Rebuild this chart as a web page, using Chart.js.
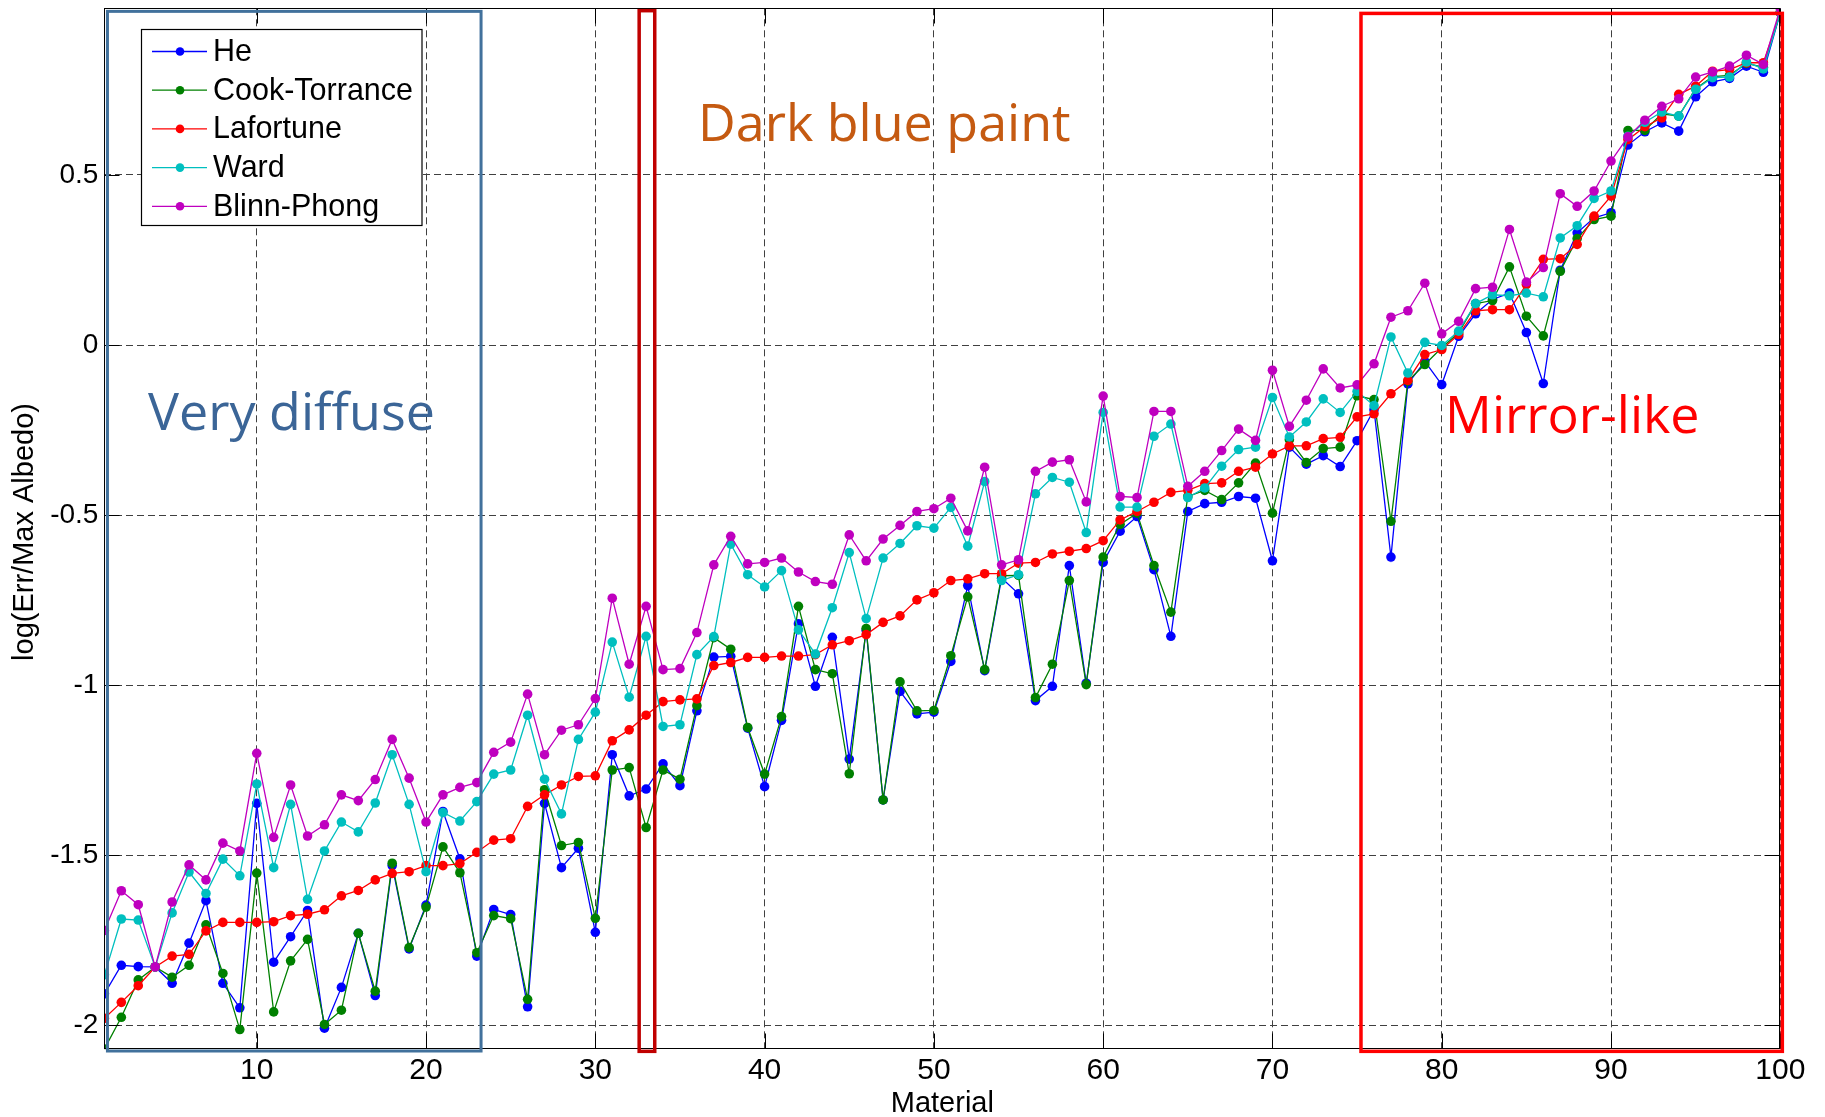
<!DOCTYPE html>
<html>
<head>
<meta charset="utf-8">
<script src="https://cdn.jsdelivr.net/npm/chart.js@4/dist/chart.umd.min.js"></script>
<style>
  html, body { margin: 0; padding: 0; background: #fff; }
  canvas { display: block; }
</style>
</head>
<body>
<canvas id="chart" width="1825" height="1117"></canvas>
<script>
// Material index 1..100
const materials = Array.from({ length: 100 }, (_, i) => i + 1);

// log(Err / Max Albedo) per material for each BRDF model
const heErr = [-1.907,-1.823,-1.827,-1.828,-1.876,-1.758,-1.633,-1.876,-1.948,-1.347,
  -1.814,-1.739,-1.662,-2.008,-1.888,-1.729,-1.912,-1.530,-1.775,-1.646,
  -1.371,-1.510,-1.796,-1.659,-1.674,-1.945,-1.347,-1.536,-1.479,-1.726,
  -1.204,-1.325,-1.305,-1.231,-1.295,-1.075,-0.917,-0.915,-1.126,-1.298,
  -1.103,-0.819,-1.003,-0.859,-1.217,-0.838,-1.337,-1.018,-1.084,-1.079,
  -0.930,-0.707,-0.957,-0.685,-0.731,-1.045,-1.003,-0.648,-0.994,-0.639,
  -0.547,-0.504,-0.660,-0.856,-0.489,-0.466,-0.462,-0.445,-0.450,-0.634,
  -0.300,-0.350,-0.325,-0.357,-0.281,-0.190,-0.623,-0.114,-0.048,-0.116,
  0.026,0.092,0.134,0.153,0.037,-0.113,0.220,0.330,0.374,0.389,
  0.588,0.627,0.653,0.629,0.730,0.774,0.784,0.820,0.802,0.977];

const cookTorranceErr = [-2.069,-1.976,-1.866,-1.828,-1.858,-1.823,-1.704,-1.847,-2.012,-1.552,
  -1.960,-1.810,-1.747,-1.997,-1.955,-1.729,-1.899,-1.523,-1.771,-1.652,
  -1.475,-1.551,-1.786,-1.677,-1.686,-1.923,-1.307,-1.471,-1.462,-1.685,
  -1.249,-1.242,-1.418,-1.249,-1.276,-1.060,-0.860,-0.894,-1.124,-1.261,
  -1.092,-0.768,-0.954,-0.966,-1.260,-0.833,-1.337,-0.990,-1.075,-1.074,
  -0.913,-0.740,-0.954,-0.678,-0.677,-1.036,-0.938,-0.692,-0.998,-0.623,
  -0.527,-0.494,-0.648,-0.785,-0.445,-0.427,-0.454,-0.405,-0.347,-0.494,
  -0.278,-0.345,-0.304,-0.300,-0.149,-0.160,-0.518,-0.106,-0.057,-0.008,
  0.036,0.122,0.131,0.230,0.085,0.027,0.217,0.313,0.369,0.379,
  0.631,0.631,0.680,0.673,0.754,0.789,0.793,0.828,0.817,0.977];

const lafortuneErr = [-1.979,-1.932,-1.883,-1.828,-1.796,-1.791,-1.722,-1.697,-1.697,-1.697,
  -1.695,-1.677,-1.673,-1.660,-1.619,-1.603,-1.572,-1.553,-1.548,-1.530,
  -1.530,-1.524,-1.491,-1.455,-1.451,-1.356,-1.322,-1.293,-1.268,-1.266,
  -1.163,-1.131,-1.088,-1.048,-1.043,-1.040,-0.942,-0.933,-0.918,-0.918,
  -0.914,-0.914,-0.910,-0.881,-0.869,-0.851,-0.815,-0.796,-0.749,-0.728,
  -0.692,-0.687,-0.672,-0.672,-0.641,-0.639,-0.614,-0.606,-0.598,-0.575,
  -0.514,-0.489,-0.462,-0.433,-0.427,-0.407,-0.405,-0.371,-0.359,-0.320,
  -0.296,-0.296,-0.275,-0.271,-0.211,-0.202,-0.143,-0.104,-0.028,-0.013,
  0.031,0.101,0.104,0.104,0.178,0.252,0.254,0.296,0.379,0.438,
  0.604,0.642,0.668,0.737,0.761,0.805,0.810,0.830,0.830,0.977];

const wardErr = [-1.851,-1.687,-1.690,-1.828,-1.669,-1.549,-1.612,-1.511,-1.560,-1.290,
  -1.536,-1.350,-1.629,-1.487,-1.402,-1.431,-1.346,-1.204,-1.350,-1.548,
  -1.374,-1.399,-1.342,-1.261,-1.249,-1.088,-1.276,-1.378,-1.159,-1.079,
  -0.873,-1.035,-0.856,-1.121,-1.116,-0.910,-0.857,-0.585,-0.675,-0.711,
  -0.663,-0.837,-0.908,-0.772,-0.610,-0.804,-0.626,-0.583,-0.531,-0.538,
  -0.477,-0.591,-0.401,-0.692,-0.675,-0.437,-0.389,-0.403,-0.551,-0.198,
  -0.476,-0.476,-0.268,-0.232,-0.448,-0.420,-0.356,-0.307,-0.300,-0.154,
  -0.270,-0.226,-0.158,-0.198,-0.136,-0.178,0.024,-0.082,0.008,-0.001,
  0.041,0.122,0.148,0.145,0.153,0.142,0.315,0.351,0.431,0.453,
  0.614,0.655,0.685,0.673,0.752,0.786,0.788,0.832,0.812,0.977];

const blinnPhongErr = [-1.721,-1.604,-1.645,-1.828,-1.637,-1.528,-1.572,-1.464,-1.487,-1.200,
  -1.447,-1.293,-1.443,-1.410,-1.322,-1.339,-1.277,-1.159,-1.273,-1.402,
  -1.322,-1.300,-1.286,-1.197,-1.167,-1.026,-1.204,-1.132,-1.116,-1.039,
  -0.744,-0.938,-0.768,-0.954,-0.951,-0.845,-0.646,-0.562,-0.643,-0.639,
  -0.626,-0.667,-0.695,-0.703,-0.558,-0.634,-0.570,-0.530,-0.489,-0.481,
  -0.450,-0.546,-0.359,-0.646,-0.631,-0.371,-0.344,-0.337,-0.461,-0.150,
  -0.445,-0.448,-0.195,-0.195,-0.415,-0.371,-0.310,-0.247,-0.280,-0.074,
  -0.239,-0.162,-0.070,-0.126,-0.117,-0.055,0.082,0.101,0.182,0.033,
  0.070,0.166,0.170,0.340,0.185,0.228,0.445,0.408,0.453,0.541,
  0.612,0.661,0.702,0.724,0.788,0.803,0.820,0.852,0.825,0.990];

const seriesNames = ['He', 'Cook-Torrance', 'Lafortune', 'Ward', 'Blinn-Phong'];
const seriesValues = [heErr, cookTorranceErr, lafortuneErr, wardErr, blinnPhongErr];
const seriesColors = ['#0000ff', '#008000', '#ff0000', '#00bfbf', '#bf00bf'];

// Highlighted material groups: [label, first material edge, last material edge]
const regionLabels = ['Very diffuse', 'Dark blue paint', 'Mirror-like'];
const regionSpans = [[1.18, 23.25], [32.59, 33.51], [75.23, 100.12]];

const FONT = '"Liberation Sans", Arial, Helvetica, sans-serif';
const NOTE_FONT = '"Open Sans", "Noto Sans", sans-serif';

const datasets = seriesNames.map((name, i) => ({
  label: name,
  data: materials.map((m, k) => ({ x: m, y: seriesValues[i][k] })),
  borderColor: seriesColors[i],
  backgroundColor: seriesColors[i],
  pointBackgroundColor: seriesColors[i],
  borderWidth: 1.3,
  pointRadius: 4.8,
  pointBorderWidth: 0,
  tension: 0,
  order: seriesNames.length - i   // first series at the bottom, last on top
}));

const decorations = {
  id: 'decorations',
  afterDraw(chart) {
    const { ctx, chartArea: a, scales: { x, y } } = chart;
    ctx.save();

    // axes box and inward tick marks
    const L = Math.round(a.left) + 0.5, R = Math.round(a.right) - 0.5;
    const T = Math.round(a.top) + 0.5, B = Math.round(a.bottom) - 0.5;
    ctx.strokeStyle = '#000';
    ctx.lineWidth = 1;
    ctx.setLineDash([]);
    ctx.strokeRect(L, T, R - L, B - T);
    const tl = 15;
    ctx.beginPath();
    x.ticks.forEach(t => {
      const px = Math.round(x.getPixelForValue(t.value)) + 0.5;
      ctx.moveTo(px, B); ctx.lineTo(px, B - tl);
      ctx.moveTo(px, T); ctx.lineTo(px, T + tl);
    });
    y.ticks.forEach(t => {
      const py = Math.round(y.getPixelForValue(t.value)) + 0.5;
      ctx.moveTo(L, py); ctx.lineTo(L + tl, py);
      ctx.moveTo(R, py); ctx.lineTo(R - tl, py);
    });
    ctx.stroke();

    // axis titles
    ctx.fillStyle = '#000';
    ctx.font = '29px ' + FONT;
    ctx.textAlign = 'center';
    ctx.textBaseline = 'alphabetic';
    ctx.fillText('Material', (a.left + a.right) / 2, 1111.5);
    ctx.save();
    ctx.translate(33, 532);
    ctx.rotate(-Math.PI / 2);
    ctx.fillText('log(Err/Max Albedo)', 0, 0);
    ctx.restore();

    // legend
    const lx = 141.5, ly = 29.5, lw = 280.5, lh = 196;
    ctx.fillStyle = '#fff';
    ctx.fillRect(lx, ly, lw, lh);
    ctx.strokeStyle = '#000';
    ctx.lineWidth = 1.2;
    ctx.strokeRect(lx, ly, lw, lh);
    ctx.font = '30.5px ' + FONT;
    ctx.textAlign = 'left';
    ctx.textBaseline = 'middle';
    seriesNames.forEach((name, i) => {
      const cy = 51.5 + i * 38.7;
      ctx.strokeStyle = seriesColors[i];
      ctx.lineWidth = 1.3;
      ctx.beginPath(); ctx.moveTo(152, cy); ctx.lineTo(207, cy); ctx.stroke();
      ctx.fillStyle = seriesColors[i];
      ctx.beginPath(); ctx.arc(180, cy, 4.3, 0, Math.PI * 2); ctx.fill();
      ctx.fillStyle = '#000';
      ctx.fillText(name, 213, cy + 1);
    });

    // highlighted material groups
    const boxStyles = [
      { color: '#41719c', width: 3, top: 0.981, bottom: -2.075 },
      { color: '#c00000', width: 3.5, top: 0.983, bottom: -2.076 },
      { color: '#ff0000', width: 3.5, top: 0.975, bottom: -2.076 }
    ];
    regionSpans.forEach(([x0, x1], i) => {
      const s = boxStyles[i];
      const px0 = x.getPixelForValue(x0), px1 = x.getPixelForValue(x1);
      const py0 = y.getPixelForValue(s.top), py1 = y.getPixelForValue(s.bottom);
      ctx.strokeStyle = s.color;
      ctx.lineWidth = s.width;
      ctx.strokeRect(px0, py0, px1 - px0, py1 - py0);
    });

    const notes = [
      { x: 3.58, y: -0.249, color: '#3b6597' },
      { x: 36.07, y: 0.599, color: '#c55a11' },
      { x: 80.2, y: -0.258, color: '#ff0000' }
    ];
    ctx.font = '52px ' + NOTE_FONT;
    ctx.textAlign = 'left';
    ctx.textBaseline = 'alphabetic';
    regionLabels.forEach((txt, i) => {
      const n = notes[i];
      ctx.fillStyle = n.color;
      ctx.fillText(txt, x.getPixelForValue(n.x), y.getPixelForValue(n.y));
    });

    ctx.restore();
  }
};

new Chart(document.getElementById('chart'), {
  type: 'line',
  data: { datasets },
  options: {
    responsive: false,
    animation: false,
    events: [],
    layout: { autoPadding: false, padding: { left: 0, right: 44.7, top: 8.3, bottom: 0 } },
    plugins: { legend: { display: false }, tooltip: { enabled: false } },
    scales: {
      x: {
        type: 'linear',
        min: 1,
        max: 100,
        afterFit: s => { s.height = 67.7; s.paddingLeft = 0; s.paddingRight = 0; },
        ticks: {
          stepSize: 10,
          includeBounds: false,
          maxRotation: 0,
          padding: 3,
          color: '#000',
          font: { family: FONT, size: 30 }
        },
        grid: { color: '#404040', lineWidth: 1, drawTicks: false },
        border: { display: false, dash: [7, 4] }
      },
      y: {
        type: 'linear',
        min: -2.07,
        max: 0.99,
        afterFit: s => { s.width = 104.4; s.paddingTop = 0; s.paddingBottom = 0; },
        ticks: {
          stepSize: 0.5,
          includeBounds: false,
          padding: 6,
          color: '#000',
          font: { family: FONT, size: 28 },
          callback: v => String(Math.round(v * 10) / 10)
        },
        grid: { color: '#404040', lineWidth: 1, drawTicks: false },
        border: { display: false, dash: [7, 4] }
      }
    }
  },
  plugins: [decorations]
});
</script>
</body>
</html>
